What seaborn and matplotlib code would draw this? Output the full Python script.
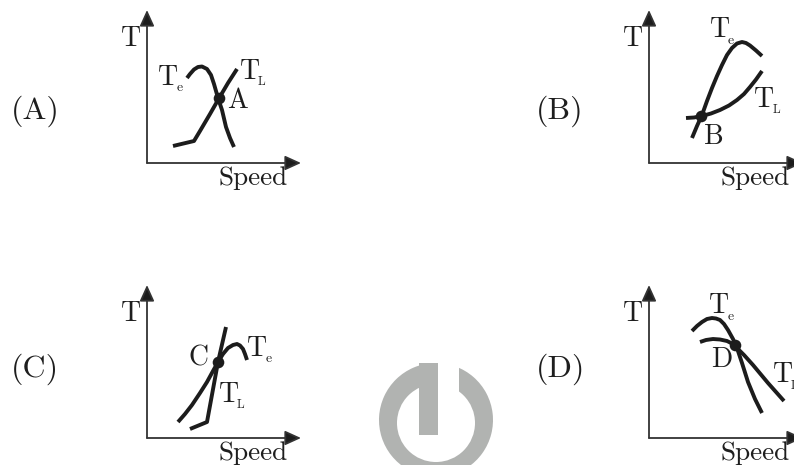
import warnings
import matplotlib
matplotlib.use("Agg")
import matplotlib.pyplot as plt
from matplotlib.patches import Wedge, Rectangle, Circle
import pandas as pd
import seaborn as sns

warnings.filterwarnings("ignore")
sns.set_theme(style="white")
FONT = ["cmr10", "DejaVu Serif"]
plt.rcParams["font.family"] = FONT
plt.rcParams["axes.formatter.use_mathtext"] = True

INK = "#1c1c1c"
GREY = "#b1b3b1"

# Curves (image pixel coordinates)
a_te_x = [187, 190, 194, 198, 202, 207, 211, 214, 218, 222, 226, 230, 234]
a_te_y = [78, 74, 69.5, 67, 66.5, 69, 75, 84, 98, 110, 127, 138, 147]
a_tl_x = [173, 194, 200, 210, 218, 228, 237]
a_tl_y = [146, 141, 131, 114, 100, 83, 69]
b_te_x = [692, 697, 702, 707, 712, 717, 722, 727, 732, 737, 742, 746, 750, 756, 762]
b_te_y = [138, 126, 115, 101, 88, 76, 65, 55, 48, 43.5, 42, 43, 45.5, 50.5, 56]
b_tl_x = [686, 694, 702, 711, 720, 729, 737, 744, 750, 756, 762]
b_tl_y = [118, 117.5, 116, 113.5, 110, 105.5, 100, 94, 87, 79.5, 71]
c_te_x = [178, 185, 192, 200, 207, 213, 218, 223, 228, 233, 237, 240, 243, 245, 247]
c_te_y = [422, 414, 405, 393, 382, 371, 362, 354, 348, 345, 344, 345.5, 349, 354, 360]
c_tl_x = [190, 207, 218, 226]
c_tl_y = [429, 422, 362, 327]
d_te_x = [692, 697, 702, 707, 712, 716, 720, 724, 728, 733, 737, 742, 748, 755, 762]
d_te_y = [331, 326, 322, 319, 318, 318.5, 320, 324, 330, 339, 348, 363, 382, 399, 413]
d_tl_x = [700, 706, 713, 720, 727, 731, 735, 744, 753, 768, 784]
d_tl_y = [342, 340, 339, 339.5, 341, 343, 346, 355, 365, 383, 401]

curves = [(a_te_x, a_te_y), (a_tl_x, a_tl_y), (b_te_x, b_te_y), (b_tl_x, b_tl_y),
          (c_te_x, c_te_y), (c_tl_x, c_tl_y), (d_te_x, d_te_y), (d_tl_x, d_tl_y)]

point_x = [219, 701, 218, 735]
point_y = [98, 116, 362, 345]

# Panel frames: origin x, origin y, top of T axis, end of Speed axis
origin_x = [147, 649, 147, 649]
origin_y = [163, 163, 438, 438]
top_y = [10, 10, 285, 285]
end_x = [301, 803, 301, 803]

panel_labels = ["(A)", "(B)", "(C)", "(D)"]
panel_label_x = [11, 536, 11, 536]
panel_label_y = [110, 110, 368, 368]

fig = plt.figure(figsize=(7.94, 4.65), dpi=100)
ax = fig.add_axes([0, 0, 1, 1])

# Watermark
ax.add_patch(Wedge((436, 420), 57, -70, 268, color=GREY, lw=0, zorder=1))
ax.add_patch(Rectangle((438, 355), 21, 40, color="white", lw=0, zorder=1.1))
ax.add_patch(Circle((436, 423), 39, color="white", lw=0, zorder=1.2))
ax.add_patch(Rectangle((419, 363), 19, 72, color=GREY, lw=0, zorder=1.3))

# Axes with arrows
for ox, oy, ty, ex in zip(origin_x, origin_y, top_y, end_x):
    for tip in [(ox, ty), (ex, oy)]:
        ax.annotate("", xy=tip, xytext=(ox, oy), annotation_clip=False,
                    arrowprops=dict(arrowstyle="-|>,head_length=0.75,head_width=0.34",
                                    color="#333333", lw=1.3, shrinkA=0, shrinkB=0,
                                    mutation_scale=13, fc=INK))

# Curves
for x, y in curves:
    df = pd.DataFrame({"speed": x, "torque": y})
    sns.lineplot(data=df, x="speed", y="torque", sort=False, estimator=None, ax=ax,
                 color=INK, lw=2.8, solid_capstyle="butt", solid_joinstyle="round")

sns.scatterplot(x=point_x, y=point_y, ax=ax, color=INK, s=70, linewidth=0, zorder=5)

ax.set_xlim(0, 794)
ax.set_ylim(465, 0)
ax.axis("off")

# Text
TEXT = "#1e1e1e"
def put(x, y, s, size=20):
    ax.text(x, y, s, fontsize=size, family=FONT, color=TEXT, ha="left", va="baseline")

for s, x, y in zip(panel_labels, panel_label_x, panel_label_y):
    put(x, y + 9, s, 23)

for ox, oy in zip(origin_x, origin_y):
    put(ox - 26, oy - 117, "T", 20)
    put(ox + 72, oy + 22, "Speed", 19.5)

put(158, 85, "T", 20); put(177, 91, "e", 10)
put(240, 79, "T", 20); put(258, 85, "L", 9)
put(227, 108, "A", 20)

put(710, 37, "T", 20); put(728, 44, "e", 10)
put(754, 107, "T", 20); put(773, 113, "L", 9)
put(704, 144, "B", 20)

put(189, 365, "C", 20)
put(247, 356, "T", 20); put(266, 362, "e", 10)
put(219, 402, "T", 20); put(237, 408, "L", 9)

put(709, 313, "T", 20); put(728, 320, "e", 10)
put(711, 367, "D", 20)
put(773, 382, "T", 20); put(791, 389, "L", 9)

fig.savefig("out.png", dpi=100)
